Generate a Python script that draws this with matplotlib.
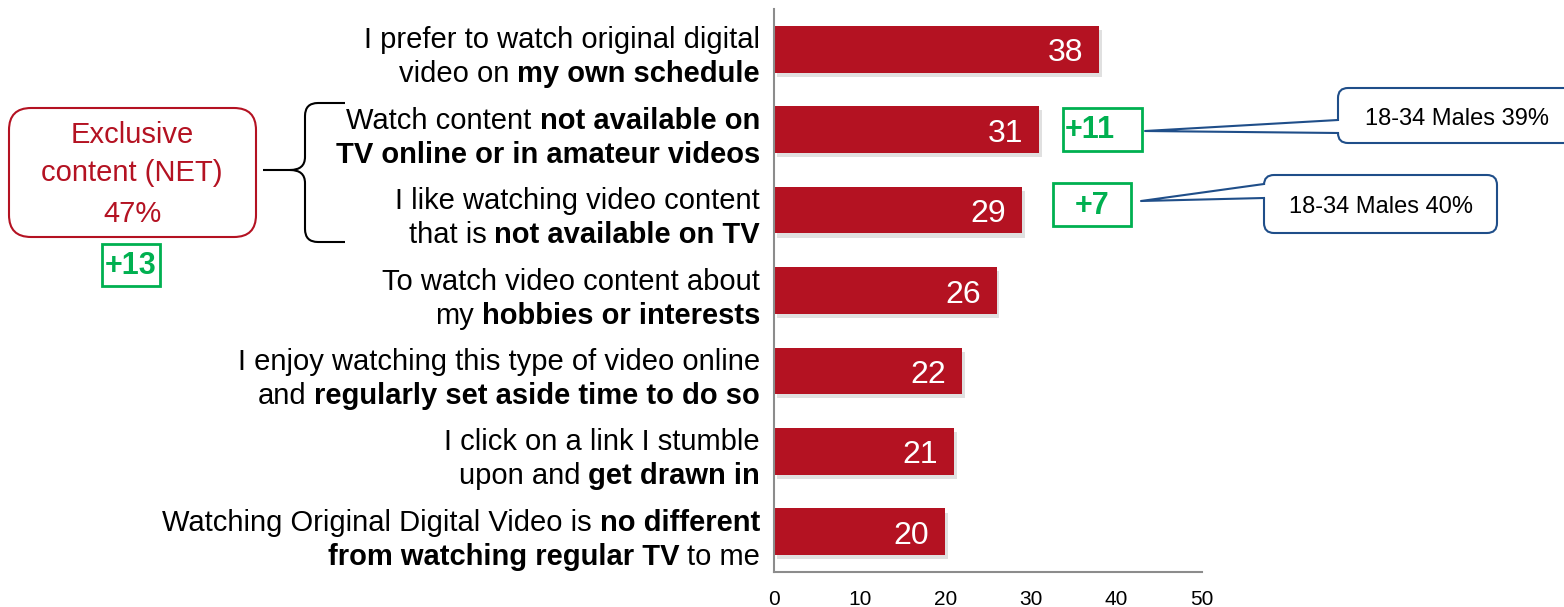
import matplotlib
matplotlib.use("Agg")
import matplotlib.pyplot as plt
import matplotlib.patheffects as pe
from matplotlib.patches import Rectangle, FancyBboxPatch, PathPatch, Polygon
from matplotlib.path import Path
from matplotlib.lines import Line2D
from matplotlib.transforms import Affine2D

plt.rcParams['font.family'] = ['Liberation Sans', 'DejaVu Sans']

# data
values = [38, 31, 29, 26, 22, 21, 20]
labels = [
    [[("I prefer to watch original digital", False)],
     [("video on", False), ("my own schedule", True)]],
    [[("Watch content", False), ("not available on", True)],
     [("TV online or in amateur videos", True)]],
    [[("I like watching video content", False)],
     [("that is", False), ("not available on TV", True)]],
    [[("To watch video content about", False)],
     [("my", False), ("hobbies or interests", True)]],
    [[("I enjoy watching this type of video online", False)],
     [("and", False), ("regularly set aside time to do so", True)]],
    [[("I click on a link I stumble", False)],
     [("upon and", False), ("get drawn in", True)]],
    [[("Watching Original Digital Video is", False), ("no different", True)],
     [("from watching regular TV", True), ("to me", False)]],
]
xticks = [0, 10, 20, 30, 40, 50]
net_lines = ["Exclusive", "content (NET)", "47%"]
net_diff = "+13"
diffs = ["+11", "+7"]
callouts = ["18-34 Males 39%", "18-34 Males 40%"]

BAR = '#B41222'
GREEN = '#00B050'
BLUE = '#1F4E89'
W, H = 1564, 607

fig = plt.figure(figsize=(W / 100, H / 100), dpi=100)
pix = Affine2D().scale(1, -1).translate(0, H)  # pixel coords, origin top-left

ax = fig.add_axes([774 / W, (H - 572) / H, 428 / W, 563 / H])
ypos = list(range(len(values)))
bars = ax.barh(ypos, values, height=0.58, color=BAR, zorder=2)
for b in bars:
    b.set_path_effects([pe.SimplePatchShadow(offset=(2, -3), shadow_rgbFace='#999999', alpha=0.3),
                        pe.Normal()])
ax.set_ylim(6.5, -0.5)
ax.set_xlim(0, 50)
ax.set_xticks(xticks)
ax.set_yticks([])
ax.tick_params(axis='x', length=0, pad=13, labelsize=15)
for s in ['top', 'right']:
    ax.spines[s].set_visible(False)
for s in ['left', 'bottom']:
    ax.spines[s].set_color('#8c8c8c')
    ax.spines[s].set_linewidth(1.5)

for i, v in enumerate(values):
    ax.annotate(str(v), xy=(v, i), xytext=(-16, -12), textcoords='offset pixels',
                ha='right', va='baseline', color='white', fontsize=23)

FS = 21
GAP = 8


def draw_line(y, dy, segs):
    prev = None
    for text, bold in reversed(segs):
        w = 'bold' if bold else 'normal'
        if prev is None:
            prev = ax.annotate(text, xy=(0, y), xytext=(-14, -dy), textcoords='offset pixels',
                               ha='right', va='baseline', fontsize=FS, fontweight=w,
                               annotation_clip=False)
        else:
            prev = ax.annotate(text, xy=(0, 0), xycoords=prev, xytext=(-GAP, 0),
                               textcoords='offset pixels', ha='right', va='bottom',
                               fontsize=FS, fontweight=w, annotation_clip=False)


for i, lab in enumerate(labels):
    draw_line(i, -1, lab[0])
    draw_line(i, 33, lab[1])

# NET box
fig.add_artist(FancyBboxPatch((9, 108), 247, 129, boxstyle='round,pad=0,rounding_size=22',
                              transform=pix, facecolor='white', edgecolor=BAR, lw=1.5))
for t, yb in zip(net_lines, [143, 181, 222]):
    fig.text(132, yb, t, transform=pix, ha='center', va='baseline', color=BAR, fontsize=FS)
fig.add_artist(Rectangle((102, 244), 58, 42, transform=pix, fill=False, edgecolor=GREEN, lw=2))
fig.text(131, 266, net_diff, transform=pix, ha='center', va='center', color=GREEN,
         fontsize=22, fontweight='bold')

# brace
verts = [(345, 103), (318, 103), (305, 103), (305, 116), (305, 157), (305, 170), (290, 170),
         (263, 170), (290, 170), (305, 170), (305, 183), (305, 229), (305, 242), (318, 242),
         (345, 242)]
codes = [Path.MOVETO, Path.LINETO, Path.CURVE3, Path.CURVE3, Path.LINETO, Path.CURVE3, Path.CURVE3,
         Path.LINETO, Path.MOVETO, Path.CURVE3, Path.CURVE3, Path.LINETO, Path.CURVE3, Path.CURVE3,
         Path.LINETO]
fig.add_artist(PathPatch(Path(verts, codes), transform=pix, fill=False, edgecolor='black', lw=1.5))

# green diff boxes
for (x0, y0, w, h, tx), t in zip([(1063, 108, 79, 43, 1090), (1053, 183, 78, 43, 1092)], diffs):
    fig.add_artist(Rectangle((x0, y0), w, h, transform=pix, fill=False, edgecolor=GREEN, lw=2))
    fig.text(tx, y0 + h / 2 + 1, t, transform=pix, ha='center', va='center', color=GREEN,
             fontsize=22, fontweight='bold')

# callouts
specs = [((1338, 88, 280, 55), (1145, 131), 120, 133, (1457, 125)),
         ((1264, 175, 233, 58), (1141, 201), 184, 198, (1381, 213))]
for (box, tip, ya, yb, tpos), t in zip(specs, callouts):
    x0, y0, w, h = box
    fig.add_artist(FancyBboxPatch((x0, y0), w, h, boxstyle='round,pad=0,rounding_size=10',
                                  transform=pix, facecolor='white', edgecolor=BLUE, lw=1.5))
    fig.add_artist(Polygon([tip, (x0 + 3, ya), (x0 + 3, yb)], closed=True, transform=pix,
                           facecolor='white', edgecolor='none'))
    fig.add_artist(Line2D([x0, tip[0], x0], [ya, tip[1], yb], transform=pix, color=BLUE, lw=1.5))
    fig.text(tpos[0], tpos[1], t, transform=pix, ha='center', va='baseline', fontsize=17)

fig.savefig('out.png', dpi=100)
